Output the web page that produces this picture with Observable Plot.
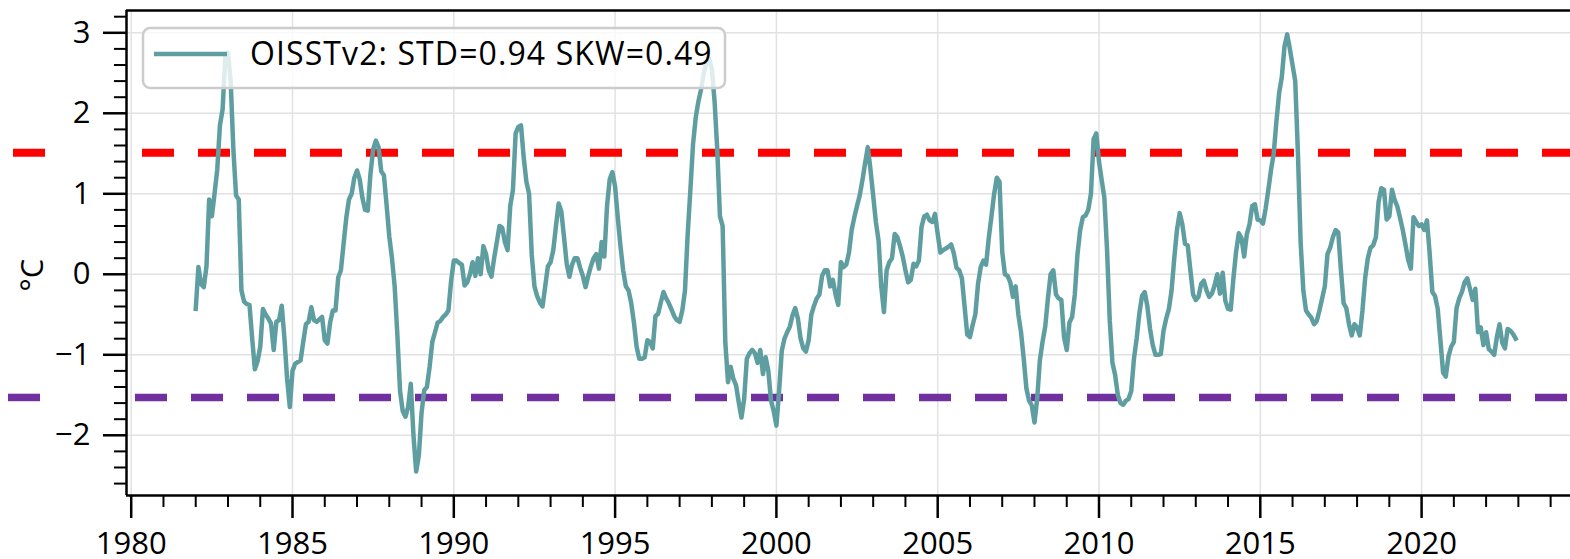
<!DOCTYPE html>
<html>
<head>
<meta charset="utf-8">
<script src="https://cdn.jsdelivr.net/npm/d3@7"></script>
<script src="https://cdn.jsdelivr.net/npm/@observablehq/plot@0.6"></script>
<style>
  html, body { margin: 0; padding: 0; background: #fff; }
  #chart svg { display: block; }
</style>
</head>
<body>
<div id="chart"></div>
<script>
// Monthly SST anomaly (°C), January 1982 – December 2022, one row per year
const firstYear = 1982;
const anomaly = [
  -0.43, 0.09, -0.12, -0.16, 0.10, 0.93, 0.72, 1.00, 1.30, 1.85, 2.05, 2.70,
  2.75, 2.40, 1.55, 0.98, 0.93, -0.20, -0.34, -0.37, -0.38, -0.80, -1.18, -1.08,
  -0.90, -0.43, -0.50, -0.55, -0.61, -0.94, -0.59, -0.57, -0.39, -0.80, -1.30, -1.65,
  -1.20, -1.11, -1.09, -1.07, -0.84, -0.62, -0.59, -0.41, -0.57, -0.59, -0.56, -0.53,
  -0.82, -0.86, -0.60, -0.45, -0.45, -0.04, 0.05, 0.38, 0.70, 0.93, 1.00, 1.20,
  1.29, 1.18, 0.95, 0.80, 0.79, 1.25, 1.55, 1.66, 1.58, 1.28, 1.23, 0.86,
  0.47, 0.20, -0.15, -0.75, -1.45, -1.70, -1.77, -1.65, -1.36, -2.00, -2.45, -2.25,
  -1.72, -1.44, -1.40, -1.15, -0.84, -0.72, -0.60, -0.58, -0.53, -0.50, -0.45, -0.08,
  0.17, 0.17, 0.14, 0.12, -0.14, -0.10, 0.00, 0.15, -0.02, 0.20, 0.00, 0.35,
  0.25, 0.05, -0.03, 0.20, 0.40, 0.60, 0.58, 0.40, 0.30, 0.85, 1.05, 1.75,
  1.83, 1.85, 1.45, 1.15, 1.00, 0.24, -0.15, -0.27, -0.35, -0.40, -0.15, 0.10,
  0.15, 0.30, 0.60, 0.88, 0.78, 0.46, 0.13, -0.03, 0.12, 0.20, 0.20, 0.08,
  -0.02, -0.16, -0.02, 0.10, 0.20, 0.25, 0.07, 0.40, 0.22, 0.85, 1.18, 1.27,
  1.09, 0.70, 0.35, 0.05, -0.15, -0.20, -0.36, -0.60, -0.90, -1.05, -1.05, -1.03,
  -0.82, -0.84, -0.92, -0.52, -0.49, -0.35, -0.22, -0.30, -0.36, -0.44, -0.52, -0.57,
  -0.59, -0.45, -0.20, 0.50, 1.05, 1.62, 1.95, 2.15, 2.30, 2.50, 2.62, 2.68,
  2.55, 2.15, 1.55, 0.72, 0.60, -0.85, -1.34, -1.15, -1.30, -1.38, -1.59, -1.78,
  -1.55, -1.05, -0.98, -0.94, -0.98, -1.10, -0.94, -1.24, -1.03, -1.20, -1.57, -1.70,
  -1.88, -1.45, -0.95, -0.80, -0.72, -0.65, -0.51, -0.42, -0.55, -0.80, -0.92, -0.96,
  -0.82, -0.50, -0.39, -0.30, -0.25, -0.02, 0.05, 0.05, -0.15, -0.07, -0.25, -0.38,
  0.15, 0.09, 0.12, 0.27, 0.55, 0.71, 0.85, 0.98, 1.17, 1.38, 1.58, 1.30,
  0.98, 0.65, 0.42, -0.15, -0.47, 0.05, 0.15, 0.20, 0.50, 0.46, 0.35, 0.22,
  0.05, -0.10, -0.07, 0.13, 0.10, 0.17, 0.59, 0.72, 0.74, 0.67, 0.65, 0.75,
  0.50, 0.27, 0.30, 0.32, 0.34, 0.37, 0.26, 0.08, 0.05, -0.05, -0.40, -0.75,
  -0.78, -0.63, -0.50, -0.12, 0.09, 0.17, 0.12, 0.45, 0.72, 1.00, 1.20, 1.15,
  0.28, 0.00, -0.02, -0.10, -0.28, -0.15, -0.50, -0.72, -1.05, -1.42, -1.57, -1.63,
  -1.84, -1.55, -1.07, -0.84, -0.65, -0.30, 0.00, 0.05, -0.25, -0.30, -0.32, -0.78,
  -0.94, -0.60, -0.53, -0.25, 0.25, 0.55, 0.71, 0.73, 0.80, 1.00, 1.68, 1.75,
  1.40, 1.17, 0.95, 0.30, -0.57, -1.10, -1.25, -1.50, -1.60, -1.62, -1.57, -1.55,
  -1.45, -1.05, -0.80, -0.49, -0.27, -0.22, -0.40, -0.68, -0.88, -1.00, -1.00, -0.99,
  -0.70, -0.55, -0.43, -0.20, 0.20, 0.55, 0.76, 0.62, 0.38, 0.36, 0.05, -0.25,
  -0.32, -0.28, -0.12, -0.08, -0.20, -0.28, -0.24, -0.14, 0.00, -0.24, 0.02, -0.33,
  -0.43, -0.44, -0.05, 0.28, 0.51, 0.45, 0.22, 0.50, 0.62, 0.85, 0.87, 0.68,
  0.67, 0.63, 0.82, 1.05, 1.30, 1.50, 1.90, 2.25, 2.45, 2.83, 2.98, 2.80,
  2.60, 2.40, 1.50, 0.40, -0.20, -0.45, -0.50, -0.54, -0.62, -0.58, -0.45, -0.30,
  -0.15, 0.25, 0.33, 0.46, 0.55, 0.52, 0.05, -0.36, -0.42, -0.62, -0.76, -0.62,
  -0.66, -0.76, -0.45, -0.05, 0.20, 0.33, 0.36, 0.46, 0.90, 1.07, 1.05, 0.68,
  0.72, 1.05, 0.92, 0.84, 0.70, 0.55, 0.37, 0.18, 0.07, 0.71, 0.65, 0.60,
  0.62, 0.55, 0.67, 0.26, -0.22, -0.27, -0.43, -0.82, -1.22, -1.27, -1.02, -0.90,
  -0.84, -0.42, -0.30, -0.22, -0.10, -0.05, -0.18, -0.32, -0.18, -0.72, -0.66, -0.88,
  -0.72, -0.93, -0.96, -1.00, -0.78, -0.62, -0.85, -0.92, -0.68, -0.70, -0.74, -0.80
];

// Threshold levels (°C)
const warmThreshold = 1.51;
const coolThreshold = -1.53;

// Tick values
const yearTicks = [1980, 1985, 1990, 1995, 2000, 2005, 2010, 2015, 2020];
const yearMinorTicks = d3.range(1980, 2025).filter(d => d % 5 !== 0);
const valueTicks = [-2, -1, 0, 1, 2, 3];
const valueMinorTicks = d3.range(-26, 34, 2).filter(d => d % 10 !== 0).map(d => d / 10);

const legendLabel = "OISSTv2: STD=0.94 SKW=0.49";
const unitLabel = "°C";

// ---- layout ----
const width = 1570, height = 559;
const margin = {top: 10, right: 0, bottom: 64, left: 126};
const xDomain = [1979.854, 2024.616];
const yDomain = [-2.748, 3.277];
const lineColor = "#5f9ea0";
const font = "'Open Sans', 'Noto Sans', sans-serif";
const tickFontSize = 31;

// pixel column -> year, for the dash segments that start at fixed columns
const pxToYear = p => xDomain[0] + (p - margin.left) * (xDomain[1] - xDomain[0]) / (width - margin.left - margin.right);

const series = anomaly.map((v, i) => ({t: firstYear + i / 12, v}));

const fmtValue = d => d < 0 ? "\u2212" + Math.abs(d) : String(d);

const chart = Plot.plot({
  width, height,
  marginTop: margin.top, marginRight: margin.right,
  marginBottom: margin.bottom, marginLeft: margin.left,
  x: {domain: xDomain, axis: null},
  y: {domain: yDomain, axis: null},
  style: {fontFamily: font, fontSize: tickFontSize + "px", color: "#000", background: "#fff", overflow: "visible"},
  marks: [
    Plot.gridX(yearTicks, {stroke: "#e2e2e2", strokeOpacity: 1, strokeWidth: 1.5}),
    Plot.gridY(valueTicks, {stroke: "#e2e2e2", strokeOpacity: 1, strokeWidth: 1.5}),

    // threshold lines: a dash beside the axis, then the dashed line across the panel
    Plot.ruleY([warmThreshold], {x1: pxToYear(13), x2: pxToYear(45), stroke: "#ff0000", strokeWidth: 8}),
    Plot.ruleY([warmThreshold], {x1: pxToYear(142), x2: xDomain[1], stroke: "#ff0000", strokeWidth: 8, strokeDasharray: "32,24"}),
    Plot.ruleY([coolThreshold], {x1: pxToYear(8), x2: pxToYear(40), stroke: "#7030a0", strokeWidth: 7.5}),
    Plot.ruleY([coolThreshold], {x1: pxToYear(135), x2: xDomain[1], stroke: "#7030a0", strokeWidth: 7.5, strokeDasharray: "32,24"}),

    Plot.line(series, {x: "t", y: "v", stroke: lineColor, strokeWidth: 4.5, strokeLinejoin: "round", strokeLinecap: "square"}),

    // spines
    Plot.ruleX([xDomain[0]], {stroke: "#000", strokeWidth: 2.5}),
    Plot.ruleY([yDomain[0]], {stroke: "#000", strokeWidth: 2.5}),
    Plot.ruleY([yDomain[1]], {stroke: "#000", strokeWidth: 2.5}),

    // axes
    Plot.axisX(yearTicks, {anchor: "bottom", tickSize: 23, tickPadding: 13, strokeWidth: 2.5, tickFormat: d => String(d), label: null, fontSize: tickFontSize}),
    Plot.axisX(yearMinorTicks, {anchor: "bottom", tickSize: 12, strokeWidth: 2, tickFormat: () => "", label: null}),
    Plot.axisY(valueTicks, {anchor: "left", tickSize: 23, tickPadding: 13, strokeWidth: 2.5, tickFormat: fmtValue, label: null, fontSize: tickFontSize}),
    Plot.axisY(valueMinorTicks, {anchor: "left", tickSize: 12, strokeWidth: 2, tickFormat: () => "", label: null})
  ]
});

// legend box inside the panel
const svg = d3.select(chart);
const legend = svg.append("g").attr("font-family", font).attr("text-anchor", "start");
legend.append("rect")
  .attr("x", 143).attr("y", 28).attr("width", 582).attr("height", 60).attr("rx", 7)
  .attr("fill", "#fff").attr("fill-opacity", 0.8)
  .attr("stroke", "#cccccc").attr("stroke-width", 2.5);
legend.append("line")
  .attr("x1", 154).attr("x2", 227).attr("y1", 54).attr("y2", 54)
  .attr("stroke", lineColor).attr("stroke-width", 4.5);
legend.append("text")
  .attr("x", 250).attr("y", 65)
  .attr("font-size", 32).attr("letter-spacing", 1.1).attr("fill", "#000")
  .text(legendLabel);

// unit label on the left
svg.append("text")
  .attr("transform", "translate(43,275) rotate(-90)")
  .attr("text-anchor", "middle")
  .attr("font-family", font).attr("font-size", tickFontSize).attr("fill", "#000")
  .text(unitLabel);

document.getElementById("chart").appendChild(chart);
</script>
</body>
</html>
